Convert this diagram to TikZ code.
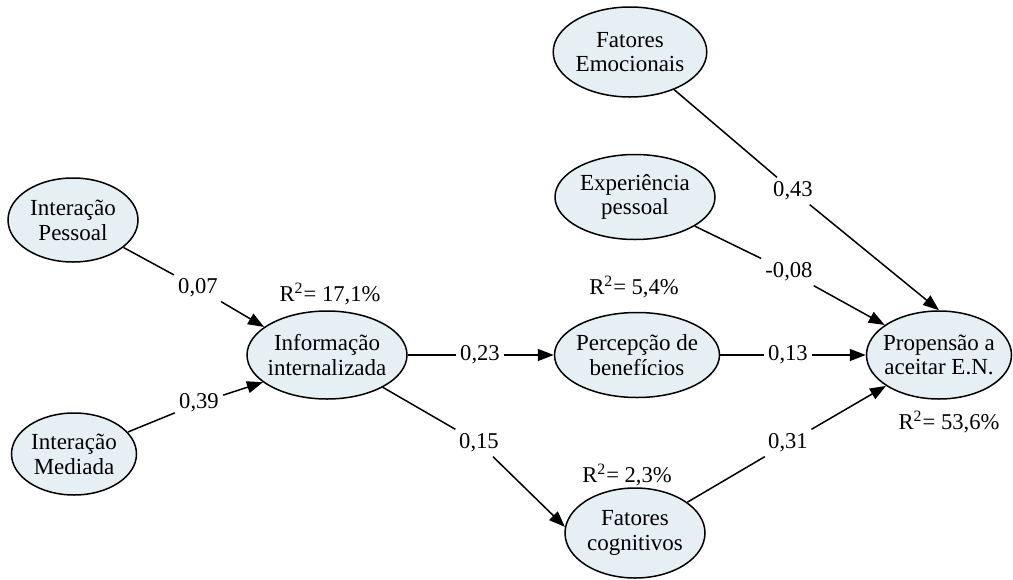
\documentclass[tikz,border=0pt]{standalone}
\usepackage{fontspec}
\setmainfont{Liberation Serif}
\usetikzlibrary{arrows.meta,shapes.geometric}
\definecolor{nodefill}{RGB}{230,240,244}
\begin{document}
\begin{tikzpicture}[x=0.5pt,y=-0.5pt,
  var/.style={ellipse,draw=black,line width=0.75pt,fill=nodefill,inner sep=0pt,
    align=center,font=\fontsize{11.5}{12.4}\selectfont},
  lbl/.style={inner sep=2pt,font=\fontsize{11.3}{12.5}\selectfont},
  rsq/.style={inner sep=1pt,font=\fontsize{11.3}{12.5}\selectfont},
  link/.style={line width=0.75pt,draw=black},
  arr/.style={link,-{Triangle[length=8pt,width=6pt]}}]
\useasboundingbox (0,0) rectangle (1013,579);
% variables
\node[var,minimum width=65pt,minimum height=42pt] (pes) at (73,220) {Interação\\Pessoal};
\node[var,minimum width=62.5pt,minimum height=41pt] (med) at (74,454) {Interação\\Mediada};
\node[var,minimum width=80pt,minimum height=44pt,inner xsep=-1.5pt] (info) at (327,355) {Informação\\internalizada};
\node[var,minimum width=82.5pt,minimum height=42.5pt,inner xsep=-1.5pt] (perc) at (637,355) {Percepção de\\benefícios};
\node[var,minimum width=72.5pt,minimum height=44pt,inner xsep=-3pt] (prop) at (939,355) {Propensão a\\aceitar E.N.};
\node[var,minimum width=70pt,minimum height=45pt] (cog) at (635,533) {Fatores\\cognitivos};
\node[var,minimum width=75pt,minimum height=45pt] (emo) at (630,52) {Fatores\\Emocionais};
\node[var,minimum width=80pt,minimum height=42.5pt] (exp) at (635,197) {Experiência\\pessoal};
% coefficient labels
\node[lbl] (l07) at (198,288) {0,07};
\node[lbl] (l39) at (199,403) {0,39};
\node[lbl] (l23) at (480,355) {0,23};
\node[lbl] (l15) at (479,443) {0,15};
\node[lbl] (l13) at (788,355) {0,13};
\node[lbl] (l31) at (788,443) {0,31};
\node[lbl] (l43) at (793,191) {0,43};
\node[lbl] (l08) at (789,272) {-0,08};
% R-squared labels
\node[rsq] (r1) at (330,294) {R\textsuperscript{2}= 17,1\%};
\node[rsq] (r2) at (634,287) {R\textsuperscript{2}= 5,4\%};
\node[rsq] (r3) at (627,475) {R\textsuperscript{2}= 2,3\%};
\node[rsq] (r4) at (949,422) {R\textsuperscript{2}= 53,6\%};
% connectors
\draw[link] (pes) -- (l07);  \draw[arr] (l07) -- (info.156);
\draw[link] (med) -- (l39);  \draw[arr] (l39) -- (info.203);
\draw[link] (info) -- (l23); \draw[arr] (l23) -- (perc);
\draw[link] (info) -- (l15); \draw[arr] (l15) -- (cog.175);
\draw[link] (perc) -- (l13); \draw[arr] (l13) -- (prop);
\draw[link] (cog) -- (l31);  \draw[arr] (l31) -- (prop);
\draw[link] (emo) -- (l43);  \draw[arr] (l43) -- (prop.north);
\draw[link] (exp) -- (l08);  \draw[arr] (l08) -- (prop);
\end{tikzpicture}
\end{document}
